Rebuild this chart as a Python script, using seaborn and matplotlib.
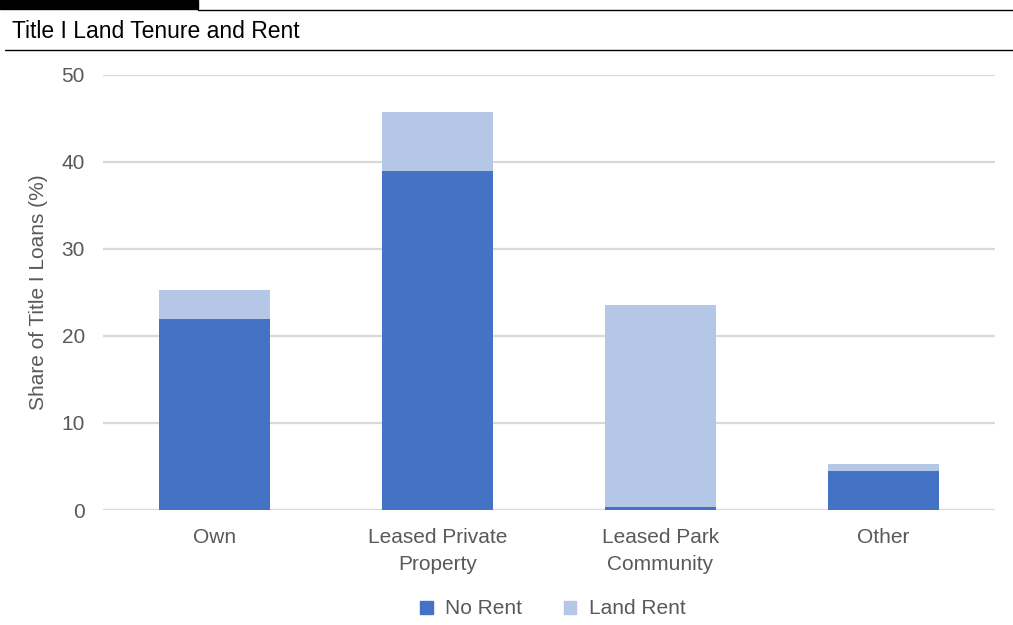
import matplotlib.pyplot as plt
import seaborn as sns
import pandas as pd
from matplotlib.patches import Rectangle
from matplotlib.lines import Line2D

categories = ['Own', 'Leased Private\nProperty', 'Leased Park\nCommunity', 'Other']
no_rent = [22.0, 39.0, 0.3, 4.5]
land_rent = [3.3, 6.8, 23.3, 0.8]

no_rent_color = '#4472C4'
land_rent_color = '#B4C7E7'
grey_text = '#595959'

sns.set_theme(style='white')
plt.rcParams['font.family'] = ['Liberation Sans', 'DejaVu Sans']

df = pd.DataFrame({'Tenure': categories, 'No Rent': no_rent, 'Land Rent': land_rent})
df['Total'] = df['No Rent'] + df['Land Rent']

fig = plt.figure(figsize=(10.13, 6.25), dpi=100)
ax = fig.add_axes([103/1013, 1-510/625, (995-103)/1013, (510-75)/625])

# stacked bars: total drawn first in light colour, no rent on top
sns.barplot(data=df, x='Tenure', y='Total', color=land_rent_color, width=0.5,
            saturation=1, order=categories, ax=ax, zorder=3, linewidth=0, edgecolor='none')
sns.barplot(data=df, x='Tenure', y='No Rent', color=no_rent_color, width=0.5,
            saturation=1, order=categories, ax=ax, zorder=4, linewidth=0, edgecolor='none')

ax.set_ylim(0, 50)
ax.set_xlim(-0.5, 3.5)
ax.set_yticks([0, 10, 20, 30, 40, 50])
ax.yaxis.grid(True, color='#d9d9d9', linewidth=1.6, zorder=0)
ax.set_axisbelow(True)
for s in ax.spines.values():
    s.set_visible(False)
ax.axhline(0, color='#d9d9d9', linewidth=2.2, zorder=2)
ax.tick_params(axis='both', length=0, labelsize=15, labelcolor=grey_text)
ax.tick_params(axis='y', pad=13)
ax.tick_params(axis='x', pad=13)
for lbl in ax.get_xticklabels():
    lbl.set_linespacing(1.55)
    lbl.set_verticalalignment('top')
ax.set_xlabel('')
ax.set_ylabel('Share of Title I Loans (%)', fontsize=15, color=grey_text, labelpad=10)

# header decoration
fig.patches.append(Rectangle((0, 1-9/625), 198/1013, 9/625, transform=fig.transFigure,
                             color='black', zorder=5))
fig.lines.append(Line2D([198/1013, 1], [1-9.5/625, 1-9.5/625], transform=fig.transFigure,
                        color='black', linewidth=1.0))
fig.lines.append(Line2D([5/1013, 1], [1-50/625, 1-50/625], transform=fig.transFigure,
                        color='black', linewidth=1.0))
fig.text(12/1013, 1-31/625, 'Title I Land Tenure and Rent', fontsize=16.5,
         color='black', va='center', ha='left')

handles = [Rectangle((0, 0), 1, 1, color=no_rent_color),
           Rectangle((0, 0), 1, 1, color=land_rent_color)]
fig.legend(handles, ['No Rent', 'Land Rent'], loc='center', bbox_to_anchor=(553/1013, 1-609/625),
           ncol=2, frameon=False, fontsize=15, handlelength=0.6, handleheight=0.6,
           columnspacing=2.0, handletextpad=0.6, labelcolor=grey_text)

fig.savefig('out.png', dpi=100)
